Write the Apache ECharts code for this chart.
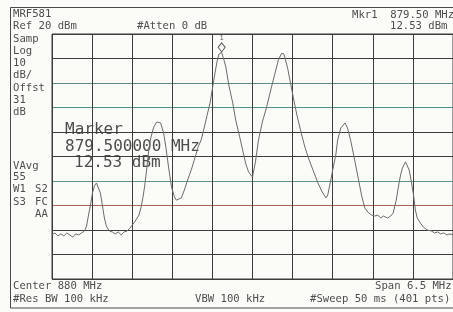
<!DOCTYPE html>
<html>
<head>
<meta charset="utf-8">
<title>MRF581 spectrum</title>
<script src="https://cdn.jsdelivr.net/npm/echarts@6/dist/echarts.min.js"></script>
<style>
  html, body { margin: 0; padding: 0; background: #fbfbf8; }
  #chart { width: 453px; height: 312px; }
</style>
</head>
<body>
<div id="chart"></div>
<script>
// analyzer settings
const centerMHz = 880;
const spanKHz = 6500;
const refLevel = 20;
const dbPerDiv = 10;

// trace (MHz / dBm)
const freqMHz = [
  876.750, 876.798, 876.846, 876.894, 876.942, 876.990, 877.038, 877.086, 877.134, 877.182,
  877.230, 877.278, 877.310, 877.342, 877.374, 877.406, 877.438, 877.470, 877.502, 877.534,
  877.566, 877.599, 877.631, 877.679, 877.727, 877.775, 877.823, 877.871, 877.919, 877.967,
  878.015, 878.063, 878.111, 878.159, 878.191, 878.223, 878.255, 878.287, 878.319, 878.351,
  878.399, 878.447, 878.479, 878.511, 878.559, 878.591, 878.639, 878.687, 878.735, 878.767,
  878.799, 878.847, 878.895, 878.959, 879.007, 879.071, 879.119, 879.167, 879.216, 879.264,
  879.312, 879.360, 879.392, 879.424, 879.456, 879.500, 879.536, 879.568, 879.616, 879.680,
  879.728, 879.792, 879.840, 879.888, 879.936, 880.000, 880.048, 880.097, 880.160, 880.230,
  880.300, 880.365, 880.420, 880.472, 880.510, 880.570, 880.660, 880.720, 880.790, 880.840,
  880.900, 880.980, 881.060, 881.130, 881.190, 881.220, 881.270, 881.300, 881.350, 881.380,
  881.430, 881.500, 881.540, 881.590, 881.640, 881.710, 881.770, 881.820, 881.870, 881.930,
  881.980, 882.030, 882.080, 882.120, 882.190, 882.240, 882.280, 882.330, 882.370, 882.400,
  882.430, 882.480, 882.510, 882.540, 882.570, 882.610, 882.640, 882.670, 882.720, 882.770,
  882.830, 882.900, 882.950, 883.000, 883.050, 883.100, 883.150, 883.200, 883.250
];
const levelDbm = [
  -62.0, -61.2, -62.4, -61.6, -62.4, -61.2, -62.0, -62.9, -61.6, -62.0,
  -61.2, -60.4, -58.4, -53.9, -49.8, -44.9, -42.0, -40.8, -41.6, -44.9,
  -49.8, -55.1, -58.4, -60.4, -60.8, -61.6, -60.8, -62.0, -60.8, -60.4,
  -59.2, -57.6, -55.9, -53.9, -51.0, -46.9, -41.6, -34.7, -27.3, -22.4,
  -18.0, -15.9, -15.7, -16.3, -20.4, -25.3, -34.3, -42.4, -46.5, -47.8,
  -48.6, -46.9, -43.7, -38.8, -35.5, -30.2, -26.1, -23.3, -18.4, -13.1,
  -8.2, -0.8, 4.1, 8.6, 11.8, 12.53, 9.5, 6.5, -0.8, -8.2,
  -15.1, -22.0, -27.3, -32.7, -36.3, -38.4, -32.2, -23.3, -15.9, -9.7,
  -2.4, 4.0, 9.4, 12.1, 11.8, 6.0, -5.7, -13.1, -20.4, -25.3,
  -30.2, -35.5, -40.8, -44.5, -46.9, -45.7, -39.6, -35.5, -29.4, -23.3,
  -18.4, -16.3, -18.4, -23.3, -29.4, -38.4, -46.1, -51.0, -52.7, -53.9,
  -54.3, -53.9, -55.1, -54.3, -55.1, -54.3, -53.1, -47.8, -41.6, -37.6,
  -34.7, -32.2, -32.7, -35.5, -39.6, -45.7, -51.8, -55.1, -57.1, -58.8,
  -60.0, -60.4, -61.2, -60.8, -61.6, -61.2, -62.0, -61.6, -62.0
];

const markerFreq = 879.5;
const markerLevel = 12.53;

const leftTop = ['MRF581', 'Ref 20 dBm', 'Samp', 'Log', '10', 'dB/', 'Offst', '31', 'dB'];
const leftBottom = ['VAvg', '55'];

const textColor = '#4e4e4e';
const gridColor = '#3d3d3d';
const smallFont = '10.6px "DejaVu Sans Mono"';
const bigFont = '16px "DejaVu Sans Mono"';

// colors of the horizontal graticule lines, bottom (-80) to top (+20)
const hLineColors = [gridColor, gridColor, gridColor, '#a8665f', '#5f9590',
  gridColor, gridColor, '#5c8e89', '#5f8c84', gridColor, gridColor];

const chart = echarts.init(document.getElementById('chart'));

const traceData = freqMHz.map((f, i) => [Math.round((f - centerMHz) * 1000), levelDbm[i]]);
const halfSpan = spanKHz / 2;

function label (text, x, y, font) {
  return {
    type: 'text',
    x: x,
    y: y,
    silent: true,
    style: { text: text, font: font || smallFont, fill: textColor, verticalAlign: 'middle' }
  };
}

const leftTopY = [14, 26, 39, 51, 63, 75, 88, 100, 112];
const graphic = [
  {
    type: 'rect',
    silent: true,
    shape: { x: 10.5, y: 7.5, width: 460, height: 300.5 },
    style: { fill: 'none', stroke: '#4a4a4a', lineWidth: 1 }
  }
];
leftTop.forEach((t, i) => graphic.push(label(t, 13, leftTopY[i])));
graphic.push(label(leftBottom[0], 13, 166));
graphic.push(label(leftBottom[1], 13, 177));
graphic.push(label('W1', 13, 189), label('S2', 35, 189));
graphic.push(label('S3', 13, 202), label('FC', 35, 202));
graphic.push(label('AA', 35, 214));

graphic.push(label('#Atten 0 dB', 137, 26));
graphic.push(label('Mkr1  ' + markerFreq.toFixed(2) + ' MHz', 352, 15));
graphic.push(label(markerLevel.toFixed(2) + ' dBm', 390, 26));

graphic.push(label('Center ' + centerMHz + ' MHz', 13, 286));
graphic.push(label('Span ' + (spanKHz / 1000) + ' MHz', 375, 286));
graphic.push(label('#Res BW 100 kHz', 13, 299));
graphic.push(label('VBW 100 kHz', 195, 299));
graphic.push(label('#Sweep 50 ms (401 pts)', 310, 299));

graphic.push(label('Marker', 65, 130, bigFont));
graphic.push(label(markerFreq.toFixed(6) + ' MHz', 65, 147, bigFont));
graphic.push(label(markerLevel.toFixed(2) + ' dBm', 74, 163, bigFont));

const option = {
  animation: false,
  backgroundColor: '#fbfbf8',
  grid: {
    left: 52,
    top: 34,
    width: 404,
    height: 245,
    show: true,
    borderColor: gridColor,
    borderWidth: 1
  },
  xAxis: {
    type: 'value',
    min: -halfSpan,
    max: halfSpan,
    interval: spanKHz / 10,
    axisLine: { show: false },
    axisTick: { show: false },
    axisLabel: { show: false },
    splitLine: { show: true, lineStyle: { color: gridColor, width: 1 } }
  },
  yAxis: {
    type: 'value',
    min: refLevel - dbPerDiv * 10,
    max: refLevel,
    interval: dbPerDiv,
    axisLine: { show: false },
    axisTick: { show: false },
    axisLabel: { show: false },
    splitLine: { show: true, lineStyle: { color: hLineColors, width: 1 } }
  },
  series: [
    {
      type: 'line',
      data: traceData,
      symbol: 'none',
      silent: true,
      lineStyle: { color: '#6b6b6b', width: 1 },
      markPoint: {
        symbol: 'diamond',
        symbolSize: [7, 9],
        symbolOffset: [0, -5],
        itemStyle: { color: 'rgba(0,0,0,0)', borderColor: '#555', borderWidth: 1 },
        label: { show: true, formatter: '1', position: 'top', distance: 1, fontSize: 7, color: '#555' },
        data: [{ coord: [Math.round((markerFreq - centerMHz) * 1000), markerLevel] }]
      }
    }
  ],
  graphic: graphic
};

chart.setOption(option);
</script>
</body>
</html>
